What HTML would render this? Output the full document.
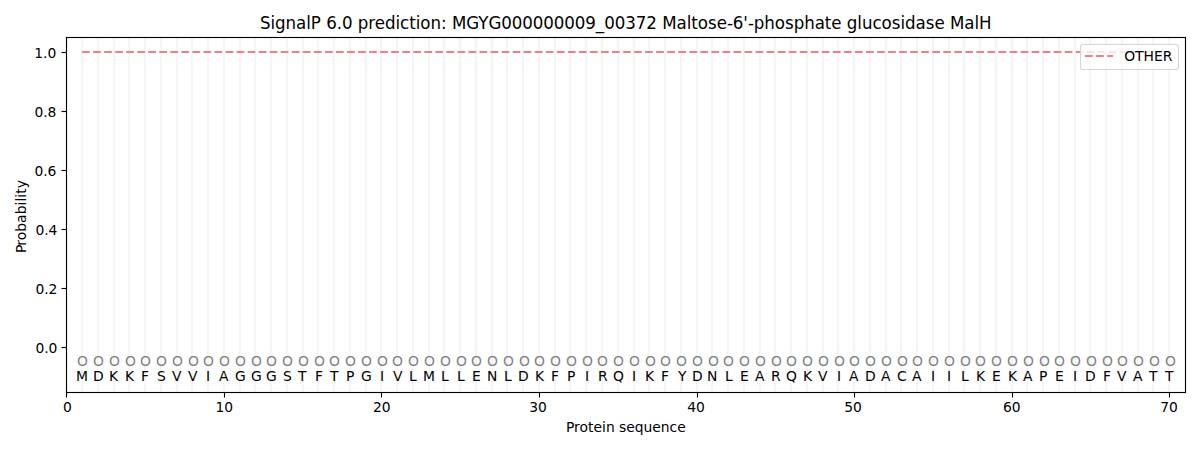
<!DOCTYPE html>
<html lang="en">
<head>
<meta charset="utf-8">
<title>SignalP 6.0 prediction: MGYG000000009_00372 Maltose-6'-phosphate glucosidase MalH</title>
<style>
html,body{margin:0;padding:0;background:#fff;}
body{width:1200px;height:450px;overflow:hidden;}
svg{display:block;}
text{font-family:"DejaVu Sans","Liberation Sans",sans-serif;font-size:13.889px;fill:#000;}
.t{font-size:16.667px;}
.o{fill:#808080;}
</style>
</head>
<body>
<svg width="1200" height="450" viewBox="0 0 1200 450">
<rect x="0" y="0" width="1200" height="450" fill="#ffffff"/>
<g id="grid" shape-rendering="crispEdges">
<rect x="80" y="38" width="4" height="354" fill="#fefefe"/>
<rect x="81" y="38" width="2" height="354" fill="#f5f5f5"/>
<rect x="96" y="38" width="4" height="354" fill="#fefefe"/>
<rect x="97" y="38" width="2" height="354" fill="#f5f5f5"/>
<rect x="112" y="38" width="4" height="354" fill="#fefefe"/>
<rect x="113" y="38" width="2" height="354" fill="#f5f5f5"/>
<rect x="127" y="38" width="4" height="354" fill="#fefefe"/>
<rect x="128" y="38" width="2" height="354" fill="#f5f5f5"/>
<rect x="143" y="38" width="4" height="354" fill="#fefefe"/>
<rect x="144" y="38" width="2" height="354" fill="#f5f5f5"/>
<rect x="159" y="38" width="4" height="354" fill="#fefefe"/>
<rect x="160" y="38" width="2" height="354" fill="#f5f5f5"/>
<rect x="175" y="38" width="4" height="354" fill="#fefefe"/>
<rect x="176" y="38" width="2" height="354" fill="#f5f5f5"/>
<rect x="190" y="38" width="4" height="354" fill="#fefefe"/>
<rect x="191" y="38" width="2" height="354" fill="#f5f5f5"/>
<rect x="206" y="38" width="4" height="354" fill="#fefefe"/>
<rect x="207" y="38" width="2" height="354" fill="#f5f5f5"/>
<rect x="222" y="38" width="4" height="354" fill="#fefefe"/>
<rect x="223" y="38" width="2" height="354" fill="#f5f5f5"/>
<rect x="238" y="38" width="4" height="354" fill="#fefefe"/>
<rect x="239" y="38" width="2" height="354" fill="#f5f5f5"/>
<rect x="253" y="38" width="4" height="354" fill="#fefefe"/>
<rect x="254" y="38" width="2" height="354" fill="#f5f5f5"/>
<rect x="269" y="38" width="4" height="354" fill="#fefefe"/>
<rect x="270" y="38" width="2" height="354" fill="#f5f5f5"/>
<rect x="285" y="38" width="4" height="354" fill="#fefefe"/>
<rect x="286" y="38" width="2" height="354" fill="#f5f5f5"/>
<rect x="301" y="38" width="4" height="354" fill="#fefefe"/>
<rect x="302" y="38" width="2" height="354" fill="#f5f5f5"/>
<rect x="316" y="38" width="4" height="354" fill="#fefefe"/>
<rect x="317" y="38" width="2" height="354" fill="#f5f5f5"/>
<rect x="332" y="38" width="4" height="354" fill="#fefefe"/>
<rect x="333" y="38" width="2" height="354" fill="#f5f5f5"/>
<rect x="348" y="38" width="4" height="354" fill="#fefefe"/>
<rect x="349" y="38" width="2" height="354" fill="#f5f5f5"/>
<rect x="364" y="38" width="4" height="354" fill="#fefefe"/>
<rect x="365" y="38" width="2" height="354" fill="#f5f5f5"/>
<rect x="379" y="38" width="4" height="354" fill="#fefefe"/>
<rect x="380" y="38" width="2" height="354" fill="#f5f5f5"/>
<rect x="395" y="38" width="4" height="354" fill="#fefefe"/>
<rect x="396" y="38" width="2" height="354" fill="#f5f5f5"/>
<rect x="411" y="38" width="4" height="354" fill="#fefefe"/>
<rect x="412" y="38" width="2" height="354" fill="#f5f5f5"/>
<rect x="427" y="38" width="4" height="354" fill="#fefefe"/>
<rect x="428" y="38" width="2" height="354" fill="#f5f5f5"/>
<rect x="442" y="38" width="4" height="354" fill="#fefefe"/>
<rect x="443" y="38" width="2" height="354" fill="#f5f5f5"/>
<rect x="458" y="38" width="4" height="354" fill="#fefefe"/>
<rect x="459" y="38" width="2" height="354" fill="#f5f5f5"/>
<rect x="474" y="38" width="4" height="354" fill="#fefefe"/>
<rect x="475" y="38" width="2" height="354" fill="#f5f5f5"/>
<rect x="490" y="38" width="4" height="354" fill="#fefefe"/>
<rect x="491" y="38" width="2" height="354" fill="#f5f5f5"/>
<rect x="505" y="38" width="4" height="354" fill="#fefefe"/>
<rect x="506" y="38" width="2" height="354" fill="#f5f5f5"/>
<rect x="521" y="38" width="4" height="354" fill="#fefefe"/>
<rect x="522" y="38" width="2" height="354" fill="#f5f5f5"/>
<rect x="537" y="38" width="4" height="354" fill="#fefefe"/>
<rect x="538" y="38" width="2" height="354" fill="#f5f5f5"/>
<rect x="553" y="38" width="4" height="354" fill="#fefefe"/>
<rect x="554" y="38" width="2" height="354" fill="#f5f5f5"/>
<rect x="568" y="38" width="4" height="354" fill="#fefefe"/>
<rect x="569" y="38" width="2" height="354" fill="#f5f5f5"/>
<rect x="584" y="38" width="4" height="354" fill="#fefefe"/>
<rect x="585" y="38" width="2" height="354" fill="#f5f5f5"/>
<rect x="600" y="38" width="4" height="354" fill="#fefefe"/>
<rect x="601" y="38" width="2" height="354" fill="#f5f5f5"/>
<rect x="616" y="38" width="4" height="354" fill="#fefefe"/>
<rect x="617" y="38" width="2" height="354" fill="#f5f5f5"/>
<rect x="632" y="38" width="4" height="354" fill="#fefefe"/>
<rect x="633" y="38" width="2" height="354" fill="#f5f5f5"/>
<rect x="647" y="38" width="4" height="354" fill="#fefefe"/>
<rect x="648" y="38" width="2" height="354" fill="#f5f5f5"/>
<rect x="663" y="38" width="4" height="354" fill="#fefefe"/>
<rect x="664" y="38" width="2" height="354" fill="#f5f5f5"/>
<rect x="679" y="38" width="4" height="354" fill="#fefefe"/>
<rect x="680" y="38" width="2" height="354" fill="#f5f5f5"/>
<rect x="695" y="38" width="4" height="354" fill="#fefefe"/>
<rect x="696" y="38" width="2" height="354" fill="#f5f5f5"/>
<rect x="710" y="38" width="4" height="354" fill="#fefefe"/>
<rect x="711" y="38" width="2" height="354" fill="#f5f5f5"/>
<rect x="726" y="38" width="4" height="354" fill="#fefefe"/>
<rect x="727" y="38" width="2" height="354" fill="#f5f5f5"/>
<rect x="742" y="38" width="4" height="354" fill="#fefefe"/>
<rect x="743" y="38" width="2" height="354" fill="#f5f5f5"/>
<rect x="758" y="38" width="4" height="354" fill="#fefefe"/>
<rect x="759" y="38" width="2" height="354" fill="#f5f5f5"/>
<rect x="773" y="38" width="4" height="354" fill="#fefefe"/>
<rect x="774" y="38" width="2" height="354" fill="#f5f5f5"/>
<rect x="789" y="38" width="4" height="354" fill="#fefefe"/>
<rect x="790" y="38" width="2" height="354" fill="#f5f5f5"/>
<rect x="805" y="38" width="4" height="354" fill="#fefefe"/>
<rect x="806" y="38" width="2" height="354" fill="#f5f5f5"/>
<rect x="821" y="38" width="4" height="354" fill="#fefefe"/>
<rect x="822" y="38" width="2" height="354" fill="#f5f5f5"/>
<rect x="836" y="38" width="4" height="354" fill="#fefefe"/>
<rect x="837" y="38" width="2" height="354" fill="#f5f5f5"/>
<rect x="852" y="38" width="4" height="354" fill="#fefefe"/>
<rect x="853" y="38" width="2" height="354" fill="#f5f5f5"/>
<rect x="868" y="38" width="4" height="354" fill="#fefefe"/>
<rect x="869" y="38" width="2" height="354" fill="#f5f5f5"/>
<rect x="884" y="38" width="4" height="354" fill="#fefefe"/>
<rect x="885" y="38" width="2" height="354" fill="#f5f5f5"/>
<rect x="899" y="38" width="4" height="354" fill="#fefefe"/>
<rect x="900" y="38" width="2" height="354" fill="#f5f5f5"/>
<rect x="915" y="38" width="4" height="354" fill="#fefefe"/>
<rect x="916" y="38" width="2" height="354" fill="#f5f5f5"/>
<rect x="931" y="38" width="4" height="354" fill="#fefefe"/>
<rect x="932" y="38" width="2" height="354" fill="#f5f5f5"/>
<rect x="947" y="38" width="4" height="354" fill="#fefefe"/>
<rect x="948" y="38" width="2" height="354" fill="#f5f5f5"/>
<rect x="962" y="38" width="4" height="354" fill="#fefefe"/>
<rect x="963" y="38" width="2" height="354" fill="#f5f5f5"/>
<rect x="978" y="38" width="4" height="354" fill="#fefefe"/>
<rect x="979" y="38" width="2" height="354" fill="#f5f5f5"/>
<rect x="994" y="38" width="4" height="354" fill="#fefefe"/>
<rect x="995" y="38" width="2" height="354" fill="#f5f5f5"/>
<rect x="1010" y="38" width="4" height="354" fill="#fefefe"/>
<rect x="1011" y="38" width="2" height="354" fill="#f5f5f5"/>
<rect x="1025" y="38" width="4" height="354" fill="#fefefe"/>
<rect x="1026" y="38" width="2" height="354" fill="#f5f5f5"/>
<rect x="1041" y="38" width="4" height="354" fill="#fefefe"/>
<rect x="1042" y="38" width="2" height="354" fill="#f5f5f5"/>
<rect x="1057" y="38" width="4" height="354" fill="#fefefe"/>
<rect x="1058" y="38" width="2" height="354" fill="#f5f5f5"/>
<rect x="1073" y="38" width="4" height="354" fill="#fefefe"/>
<rect x="1074" y="38" width="2" height="354" fill="#f5f5f5"/>
<rect x="1088" y="38" width="4" height="354" fill="#fefefe"/>
<rect x="1089" y="38" width="2" height="354" fill="#f5f5f5"/>
<rect x="1104" y="38" width="4" height="354" fill="#fefefe"/>
<rect x="1105" y="38" width="2" height="354" fill="#f5f5f5"/>
<rect x="1120" y="38" width="4" height="354" fill="#fefefe"/>
<rect x="1121" y="38" width="2" height="354" fill="#f5f5f5"/>
<rect x="1136" y="38" width="4" height="354" fill="#fefefe"/>
<rect x="1137" y="38" width="2" height="354" fill="#f5f5f5"/>
<rect x="1151" y="38" width="4" height="354" fill="#fefefe"/>
<rect x="1152" y="38" width="2" height="354" fill="#f5f5f5"/>
<rect x="1167" y="38" width="4" height="354" fill="#fefefe"/>
<rect x="1168" y="38" width="2" height="354" fill="#f5f5f5"/>
</g>
<line x1="82.034" y1="52" x2="1169.243" y2="52" stroke="#f08080" stroke-width="2.0833" stroke-dasharray="7.7083 3.3333" fill="none"/>
<g id="ticks" stroke="#000" stroke-width="1.1111" fill="none">
<line x1="66.5" y1="392" x2="66.5" y2="397.5"/>
<line x1="224.5" y1="392" x2="224.5" y2="397.5"/>
<line x1="381.5" y1="392" x2="381.5" y2="397.5"/>
<line x1="539.5" y1="392" x2="539.5" y2="397.5"/>
<line x1="697.5" y1="392" x2="697.5" y2="397.5"/>
<line x1="854.5" y1="392" x2="854.5" y2="397.5"/>
<line x1="1012.5" y1="392" x2="1012.5" y2="397.5"/>
<line x1="1169.5" y1="392" x2="1169.5" y2="397.5"/>
<line x1="61.5" y1="347.5" x2="66" y2="347.5"/>
<line x1="61.5" y1="288.5" x2="66" y2="288.5"/>
<line x1="61.5" y1="229.5" x2="66" y2="229.5"/>
<line x1="61.5" y1="170.5" x2="66" y2="170.5"/>
<line x1="61.5" y1="111.5" x2="66" y2="111.5"/>
<line x1="61.5" y1="52.5" x2="66" y2="52.5"/>
</g>
<rect x="66.5" y="37.5" width="1119" height="355" fill="none" stroke="#000" stroke-width="1.1111"/>
<g id="xticklabels">
<text x="62.903" y="412">0</text>
<text x="215.407 224.282" y="412">10</text>
<text x="372.911 381.661" y="412">20</text>
<text x="529.227 537.977" y="412">30</text>
<text x="687.169 695.919" y="412">40</text>
<text x="844.235 852.985" y="412">50</text>
<text x="1002.989 1011.864" y="412">60</text>
<text x="1160.243 1168.993" y="412">70</text>
</g>
<g id="yticklabels">
<text x="35.431 44.181 48.556" y="353">0.0</text>
<text x="35.431 44.181 48.556" y="294">0.2</text>
<text x="35.431 44.181 48.556" y="235">0.4</text>
<text x="34.431 43.181 47.556" y="176">0.6</text>
<text x="34.431 43.181 47.556" y="117">0.8</text>
<text x="34.181 43.056 47.431" y="58">1.0</text>
</g>
<text x="565.889 574.014 579.514 588.014 593.514 602.014 605.889 614.639 619.014 626.139 634.639 643.514 652.264 660.764 669.514 677.139" y="432">Protein sequence</text>
<text transform="translate(26.399 214.528) rotate(-90)" x="-38.438 -31.312 -25.812 -17.312 -8.438 0.188 9.062 12.938 16.812 20.688 26.188" y="0">Probability</text>
<text class="t" transform="translate(0 28.5) scale(1 1.07)" x="259.952 270.452 275.077 285.577 296.077 306.202 310.827 320.952 326.202 336.702 341.952 352.452 357.702 368.202 374.702 384.952 395.452 400.077 409.202 415.702 420.327 430.452 440.952 446.702 451.952 466.327 478.327 488.452 501.327 511.827 522.327 532.827 543.327 553.827 564.327 574.827 585.327 595.827 604.202 614.702 625.202 635.827 646.327 656.952 662.202 676.577 686.702 691.327 697.827 707.952 716.702 726.952 732.827 743.327 747.952 753.827 764.327 774.827 784.952 793.702 804.202 814.702 824.827 831.327 841.577 846.827 857.327 861.952 872.452 881.577 891.702 900.452 905.077 915.577 925.702 934.452 944.702 949.952 964.327 974.452 979.077" y="0">SignalP 6.0 prediction: MGYG000000009_00372 Maltose-6'-phosphate glucosidase MalH</text>
<text class="o" x="76.972 92.979 108.985 124.992 139.999 155.88 171.887 187.894 202.9 218.907 234.913 250.92 265.927 281.933 297.94 313.947 328.953 344.96 360.967 376.973 391.98 407.987 423.993 439.875 455.882 470.888 486.895 502.902 518.908 533.915 549.921 565.928 581.935 596.941 612.948 628.955 644.961 659.968 675.975 691.981 707.988 722.995 738.876 754.883 770.89 785.896 801.903 817.91 833.916 848.923 864.929 880.936 896.943 911.949 927.956 943.963 959.969 974.976 990.983 1006.989 1022.996 1038.878 1053.884 1069.891 1085.898 1101.904 1116.911 1132.918 1148.924 1164.931" y="366">OOOOOOOOOOOOOOOOOOOOOOOOOOOOOOOOOOOOOOOOOOOOOOOOOOOOOOOOOOOOOOOOOOOOOO</text>
<text x="75.909 92.916 108.923 124.929 140.936 156.943 171.949 187.956 205.963 218.969 234.976 250.983 265.989 282.996 297.878 314.884 329.891 345.96 360.904 379.911 392.917 408.924 422.931 440.937 456.944 471.951 486.895 503.964 517.971 534.977 550.984 566.928 584.997 597.941 612.948 631.892 644.899 660.906 677.975 691.919 706.988 724.932 739.939 754.945 770.89 785.896 802.965 817.972 836.979 848.985 864.992 880.999 896.88 911.887 930.894 946.9 960.907 975.914 991.92 1007.927 1022.933 1038.878 1054.947 1072.953 1084.96 1102.967 1116.973 1132.98 1148.987 1164.993" y="381">MDKKFSVVIAGGGSTFTPGIVLMLLENLDKFPIRQIKFYDNLEARQKVIADACAIILKEKAPEIDFVATT</text>
<g id="legend">
<rect x="1080.5" y="44.5" width="98" height="25" rx="2.78" ry="2.78" fill="#ffffff" fill-opacity="0.8" stroke="#cccccc" stroke-opacity="0.8" stroke-width="1.1111"/>
<line x1="1085" y1="56" x2="1113" y2="56" stroke="#f08080" stroke-width="2.0833" stroke-dasharray="7.7083 3.3333" fill="none"/>
<text x="1124.212 1135.087 1143.587 1153.962 1162.712" y="61">OTHER</text>
</g>
</svg>
</body>
</html>
